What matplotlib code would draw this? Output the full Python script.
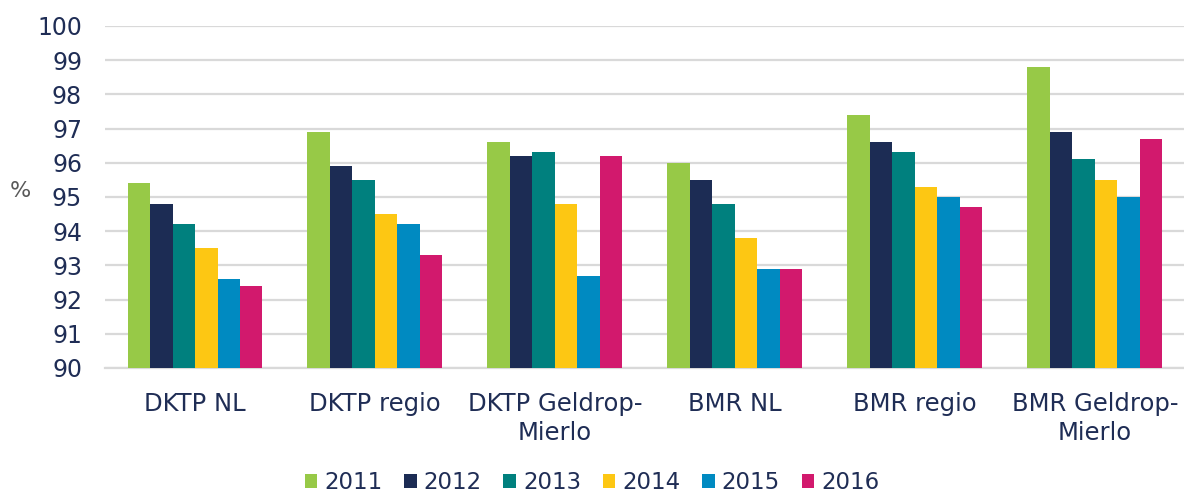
import numpy as np
import matplotlib.pyplot as plt

# categorieen en jaren
categories = ["DKTP NL", "DKTP regio", "DKTP Geldrop-\nMierlo", "BMR NL", "BMR regio", "BMR Geldrop-\nMierlo"]
years = ["2011", "2012", "2013", "2014", "2015", "2016"]

# waarden per jaar (in %)
v2011 = [95.4, 96.9, 96.6, 96.0, 97.4, 98.8]
v2012 = [94.8, 95.9, 96.2, 95.5, 96.6, 96.9]
v2013 = [94.2, 95.5, 96.3, 94.8, 96.3, 96.1]
v2014 = [93.5, 94.5, 94.8, 93.8, 95.3, 95.5]
v2015 = [92.6, 94.2, 92.7, 92.9, 95.0, 95.0]
v2016 = [92.4, 93.3, 96.2, 92.9, 94.7, 96.7]
series = [v2011, v2012, v2013, v2014, v2015, v2016]

colors = ["#97C947", "#1C2C54", "#00807E", "#FDC713", "#008AC1", "#D2196D"]
text_col = "#1F2D55"

fig = plt.figure(figsize=(11.84, 4.95), dpi=100)
ax = fig.add_axes([0.0887, 0.2566, 0.912, 0.691])

x = np.arange(len(categories))
w = 0.125
for i, vals in enumerate(series):
    ax.bar(x + (i - 2.5) * w, vals, width=w, color=colors[i], label=years[i], zorder=3)

ax.set_ylim(90, 100)
ax.set_xlim(-0.5, len(categories) - 0.5)
ax.set_yticks(range(90, 101))
ax.grid(axis="y", color="#D9D9D9", linewidth=1.6, zorder=0)
for s in ["top", "right", "left"]:
    ax.spines[s].set_visible(False)
ax.spines["bottom"].set_color("#D9D9D9")
ax.spines["bottom"].set_linewidth(1.6)

ax.set_xticks(x)
ax.set_xticklabels(categories, fontsize=17.5, color=text_col, linespacing=1.3)
ax.tick_params(axis="x", length=0, pad=17)
ax.tick_params(axis="y", length=0, pad=16.5, labelsize=17, labelcolor=text_col)

fig.text(0.008, 0.615, "%", fontsize=16, color="#595959", ha="left", va="center")

leg = fig.legend(loc="center", bbox_to_anchor=(0.5, 0.025), ncol=6, frameon=False,
                 fontsize=16.5, handlelength=0.55, handleheight=0.55, handletextpad=0.3,
                 columnspacing=0.95)
for t in leg.get_texts():
    t.set_color(text_col)

fig.savefig("out.png", dpi=100)
